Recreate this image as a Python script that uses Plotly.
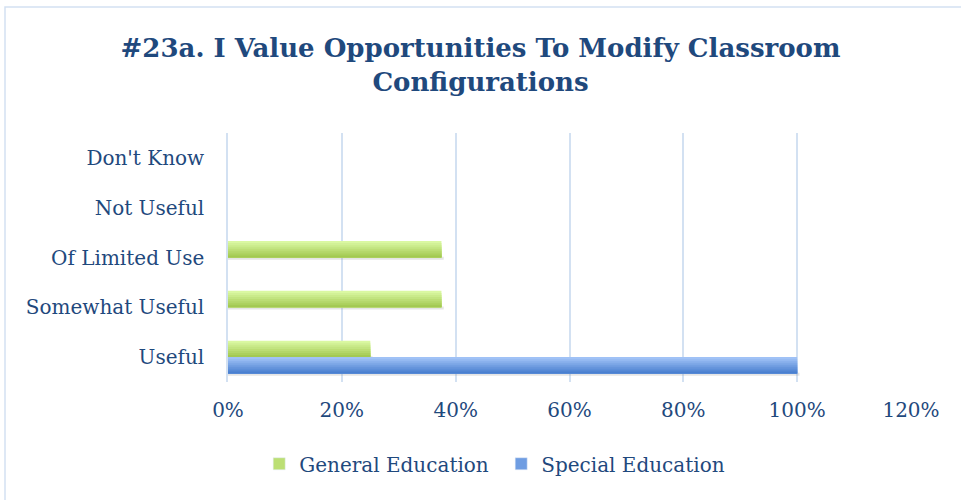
import plotly.graph_objects as go

categories = ["Useful", "Somewhat Useful", "Of Limited Use", "Not Useful", "Don't Know"]
general_education = [0.25, 0.375, 0.375, 0, 0]
special_education = [1.0, 0, 0, 0, 0]
x_ticks = [0, 0.2, 0.4, 0.6, 0.8, 1.0, 1.2]
x_tick_labels = ["0%", "20%", "40%", "60%", "80%", "100%", "120%"]

TXT = "#1f497d"
FONT = "DejaVu Serif"

BAR_W = 0.33      # thickness of each series' bar in category units
N_STRIPS = 8      # layers used to imitate the vertical gradient


def lerp(c1, c2, t):
    a = [int(c1[i:i + 2], 16) for i in (1, 3, 5)]
    b = [int(c2[i:i + 2], 16) for i in (1, 3, 5)]
    return "rgb(%d,%d,%d)" % tuple(round(a[k] + (b[k] - a[k]) * t) for k in range(3))


series = [
    # name, values, top colour, bottom colour, offset of bar bottom, legend colour, rank
    ("General Education", general_education, "#daf8a2", "#a3c952", 0.0, "#bcdf74", 1),
    ("Special Education", special_education, "#a0c2f6", "#4a80d0", -BAR_W, "#6f9de2", 2),
]

fig = go.Figure()

# soft shadows under bars
for name, vals, top, bot, off, leg, rank in series:
    fig.add_trace(go.Bar(
        y=categories, x=[v + 0.004 if v > 0 else 0 for v in vals], orientation="h",
        width=0.06, offset=off - 0.045,
        marker=dict(color="rgba(150,150,150,0.25)", line=dict(width=0)),
        showlegend=False, hoverinfo="skip",
    ))

for name, vals, top, bot, off, leg, rank in series:
    sw = BAR_W / N_STRIPS
    for i in range(N_STRIPS):
        t = i / (N_STRIPS - 1)  # 0 = top, 1 = bottom
        # each layer spans from the bar bottom up to (top - i*sw): no seams
        fig.add_trace(go.Bar(
            y=categories, x=vals, orientation="h",
            width=BAR_W - i * sw, offset=off,
            marker=dict(color=lerp(top, bot, t), line=dict(width=0)),
            name=name, legendgroup=name, showlegend=False,
            hoverinfo="skip" if i else "x+y+name",
        ))
    # legend entry only
    fig.add_trace(go.Bar(
        y=[None], x=[None], orientation="h", name=name, legendgroup=name,
        marker=dict(color=leg), legendrank=rank, showlegend=True,
    ))

fig.update_layout(
    width=961, height=500,
    paper_bgcolor="white", plot_bgcolor="white",
    margin=dict(l=228, r=50, t=133, b=118, autoexpand=False),
    barmode="overlay",
    title=dict(
        text="<b>#23a. I Value Opportunities To Modify Classroom<br>Configurations</b>",
        x=0.5, xanchor="center", y=0.886, yanchor="middle",
        font=dict(family=FONT, size=26, color=TXT),
    ),
    font=dict(family=FONT, color=TXT, size=20),
    xaxis=dict(
        range=[0, 1.2], tickvals=x_ticks, ticktext=x_tick_labels,
        showgrid=True, gridcolor="#d3e1f2", gridwidth=1.5,
        zeroline=False, showline=False, ticks="", automargin=False,
        ticklabelstandoff=14,
        tickfont=dict(family=FONT, size=20, color=TXT),
    ),
    yaxis=dict(
        range=[-0.5, 4.5], showgrid=False, zeroline=False,
        showline=True, linecolor="#d3e1f2", linewidth=1.5, ticks="",
        ticklabelstandoff=18, automargin=False,
        categoryorder="array", categoryarray=categories,
        tickfont=dict(family=FONT, size=20, color=TXT),
    ),
    legend=dict(
        orientation="h", x=0.40, xanchor="center", y=-0.25, yanchor="top",
        font=dict(family=FONT, size=20, color=TXT),
        traceorder="normal", itemwidth=30,
        entrywidth=197, entrywidthmode="pixels",
    ),
    showlegend=True,
    shapes=[dict(
        type="rect", xref="paper", yref="paper",
        x0=(5 - 228) / 683, x1=(975 - 228) / 683,
        y0=(382 - 515) / 249, y1=(382 - 7) / 249,
        line=dict(color="#d3e1f2", width=1.5), fillcolor="rgba(0,0,0,0)",
        layer="below",
    )],
)

fig.write_html("out.html", config={"displayModeBar": False},
               post_script="document.body.style.margin='0px';document.body.style.padding='0px';")
